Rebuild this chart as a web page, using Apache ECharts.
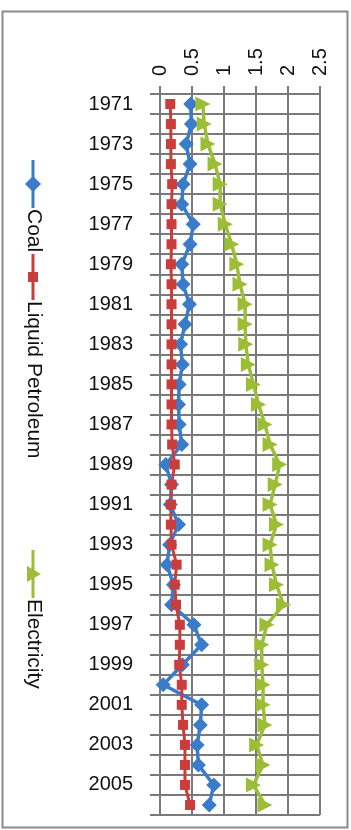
<!DOCTYPE html>
<html>
<head>
<meta charset="utf-8">
<script src="https://cdn.jsdelivr.net/npm/echarts@6/dist/echarts.min.js"></script>
<style>
  html, body { margin: 0; padding: 0; background: #ffffff; }
  #chart { width: 351px; height: 830px; }
</style>
</head>
<body>
<div id="chart"></div>
<script>
// Years on the vertical category axis
const years = ['1971','1972','1973','1974','1975','1976','1977','1978','1979',
               '1980','1981','1982','1983','1984','1985','1986','1987','1988',
               '1989','1990','1991','1992','1993','1994','1995','1996','1997',
               '1998','1999','2000','2001','2002','2003','2004','2005','2006'];

const coal = [0.48,0.49,0.41,0.47,0.36,0.34,0.52,0.47,0.34,
              0.36,0.46,0.39,0.32,0.35,0.30,0.29,0.30,0.34,
              0.09,0.18,0.16,0.29,0.15,0.11,0.21,0.18,0.53,
              0.65,0.35,0.05,0.65,0.63,0.58,0.60,0.84,0.77];

const petroleum = [0.16,0.17,0.17,0.17,0.19,0.18,0.18,0.18,0.17,
                   0.18,0.18,0.18,0.18,0.18,0.18,0.18,0.18,0.19,
                   0.23,0.18,0.17,0.17,0.18,0.26,0.23,0.25,0.31,
                   0.31,0.30,0.34,0.34,0.36,0.39,0.39,0.39,0.47];

const electricity = [0.67,0.69,0.75,0.86,0.94,0.94,1.02,1.12,1.20,
                     1.25,1.33,1.33,1.34,1.38,1.46,1.54,1.64,1.72,
                     1.87,1.80,1.72,1.82,1.72,1.75,1.82,1.93,1.67,
                     1.59,1.59,1.61,1.61,1.64,1.51,1.61,1.46,1.64];

const valueMin = 0, valueMax = 2.5, valueStep = 0.5;
const seriesNames = ['Coal', 'Liquid Petroleum', 'Electricity'];

const COLORS = { coal: '#3a7cca', petroleum: '#c93d3d', electricity: '#9cbd36' };
const GRID_COLOR = '#7a7a7a';
const TEXT_COLOR = '#111111';
const FONT = '"Liberation Sans", Arial, sans-serif';

const chart = echarts.init(document.getElementById('chart'), null, { renderer: 'canvas' });

// Rotated legend built from small shapes: line + marker + text reading top-to-bottom
function legendItem(x, yLineTop, lineLen, color, markerShape, label) {
  const cy = yLineTop + lineLen / 2;
  const children = [
    { type: 'line', shape: { x1: x, y1: yLineTop, x2: x, y2: yLineTop + lineLen },
      style: { stroke: color, lineWidth: 3 } }
  ];
  if (markerShape === 'diamond') {
    children.push({ type: 'polygon', shape: { points: [[x, cy - 8], [x + 8, cy], [x, cy + 8], [x - 8, cy]] },
      style: { fill: color } });
  } else if (markerShape === 'rect') {
    children.push({ type: 'rect', shape: { x: x - 5, y: cy - 5, width: 10, height: 10 },
      style: { fill: color } });
  } else {
    children.push({ type: 'polygon', shape: { points: [[x - 6, cy - 8], [x + 8, cy], [x - 6, cy + 8]] },
      style: { fill: color } });
  }
  children.push({
    type: 'text', x: x + 1, y: yLineTop + lineLen + 1, rotation: -Math.PI / 2,
    style: { text: label, fill: TEXT_COLOR, font: '21px ' + FONT, align: 'left', verticalAlign: 'middle' }
  });
  return { type: 'group', children };
}

chart.setOption({
  animation: false,
  backgroundColor: '#ffffff',
  grid: { left: 160, right: 31, top: 94, bottom: 15, containLabel: false },
  xAxis: {
    type: 'value',
    position: 'top',
    min: valueMin, max: valueMax, interval: valueStep,
    axisLine: { show: true, lineStyle: { color: GRID_COLOR, width: 2 } },
    axisTick: { show: true, inside: false, length: 8, lineStyle: { color: GRID_COLOR, width: 2 } },
    axisLabel: { rotate: -90, margin: 18, fontSize: 20, color: TEXT_COLOR, fontFamily: FONT,
                 formatter: v => String(v) },
    splitLine: { show: true, lineStyle: { color: GRID_COLOR, width: 2 } }
  },
  yAxis: {
    type: 'category',
    inverse: true,
    data: years,
    boundaryGap: true,
    axisLine: { show: true, lineStyle: { color: GRID_COLOR, width: 2 } },
    axisTick: { show: true, interval: 0, length: 10, lineStyle: { color: GRID_COLOR, width: 2 } },
    axisLabel: { interval: 1, margin: 27, fontSize: 20, color: TEXT_COLOR, fontFamily: FONT },
    splitLine: { show: true, interval: 0, lineStyle: { color: GRID_COLOR, width: 2 } }
  },
  series: [
    { name: seriesNames[0], type: 'line', data: coal, symbol: 'diamond', symbolSize: 15,
      showAllSymbol: true,
      itemStyle: { color: COLORS.coal }, lineStyle: { color: COLORS.coal, width: 3.5 } },
    { name: seriesNames[1], type: 'line', data: petroleum, symbol: 'rect', symbolSize: 10,
      showAllSymbol: true,
      itemStyle: { color: COLORS.petroleum }, lineStyle: { color: COLORS.petroleum, width: 3 } },
    { name: seriesNames[2], type: 'line', data: electricity, symbol: 'triangle', symbolSize: 15,
      symbolRotate: -90, showAllSymbol: true,
      itemStyle: { color: COLORS.electricity }, lineStyle: { color: COLORS.electricity, width: 3.5 } }
  ],
  graphic: [
    { type: 'rect', shape: { x: 2.5, y: 11.5, width: 345, height: 816 },
      style: { fill: null, stroke: '#8a8a8a', lineWidth: 2 }, silent: true, z: -1 },
    legendItem(33, 160, 48, COLORS.coal, 'diamond', seriesNames[0]),
    legendItem(33, 254, 46, COLORS.petroleum, 'rect', seriesNames[1]),
    legendItem(33, 550, 48, COLORS.electricity, 'triangle', seriesNames[2])
  ]
});
</script>
</body>
</html>
